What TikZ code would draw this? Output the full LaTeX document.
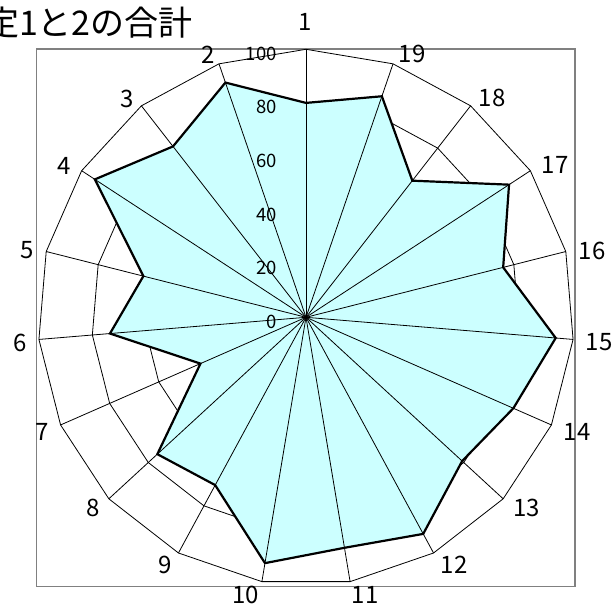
\documentclass[tikz,border=0pt]{standalone}
\usepackage{fontspec}
\setmainfont{Noto Sans CJK JP}
\usetikzlibrary{calc}
\tikzstyle{chart} = [x = 1pt, y = -1pt]
\definecolor{frameColor}{RGB}{128,128,128}
\definecolor{areaColor}{RGB}{204,255,255}
\tikzstyle{frameLine} = [color=frameColor, line width=1.2pt]
\tikzstyle{webLine} = [color=black, line width=.8pt]
\tikzstyle{areaStyle} = [draw=black, fill=areaColor, line width=2.2pt, line join=miter]
\tikzstyle{axisLabel} = [font=\fontsize{24}{24}\selectfont, inner sep=0]
\tikzstyle{scaleLabel} = [font=\fontsize{18.5}{18.5}\selectfont, inner sep=0, anchor=east]
\tikzstyle{titleText} = [font=\fontsize{34}{34}\selectfont, inner sep=0, anchor=base east]
\newcommand{\chartRadius}{268}
\newcommand{\tickY}[1]{317.3 - 2.68 * #1 + 4.5}

\begin{document}
\begin{tikzpicture}[chart]
  \useasboundingbox (0,0) rectangle (614,605);
  \coordinate (center) at (306,317.3);
  \foreach \k in {1,...,19} {
    \pgfmathsetmacro{\ang}{-90 - (\k - 1) * 360 / 19}
    \coordinate (tip\k) at ($(center) + (\ang:\chartRadius)$);
  }

  \draw [frameLine] (36.7,49) rectangle (575,586.7);

  \foreach \level in {.2,.4,.6,.8,1} {
    \draw [webLine] ($(center)!\level!(tip1)$)
      \foreach \k in {2,...,19} { -- ($(center)!\level!(tip\k)$) } -- cycle;
  }

  \filldraw [areaStyle] ($(center)!.8!(tip1)$)
    \foreach \val [count=\k from 2] in {92.6,80.8,94.1,62.6,73.4,43,75.4,71.2,93,87.2,91.9,79.2,84.5,93.5,75.9,90.5,64.6,87.2} { -- ($(center)!\val/100!(tip\k)$) } -- cycle;

  \foreach \k in {1,...,19} \draw [webLine] (center) -- (tip\k);

  \foreach \v in {0,20,...,100} {
    \pgfmathsetmacro{\ty}{\tickY{\v}}
    \node [scaleLabel] (scale\v) at (277,\ty) {\v};
  }

  \foreach \k/\lx/\ly in {1/305/22, 2/207.7/55, 3/126.7/99, 4/64.3/166, 5/26.7/250, 6/20/343.3, 7/41.7/431.7, 8/92.7/508.3, 9/165/565, 10/245.7/595, 11/365/595, 12/454/565, 13/526.7/508.3, 14/577.3/431.7, 15/599/341.7, 16/592.3/250.7, 17/555/165, 18/492.3/98.3, 19/412.3/54}
    \node [axisLabel] (label\k) at (\lx,\ly) {\k};

  \node [titleText] (title) at (193,35.5) {定1と2の合計};
\end{tikzpicture}
\end{document}
